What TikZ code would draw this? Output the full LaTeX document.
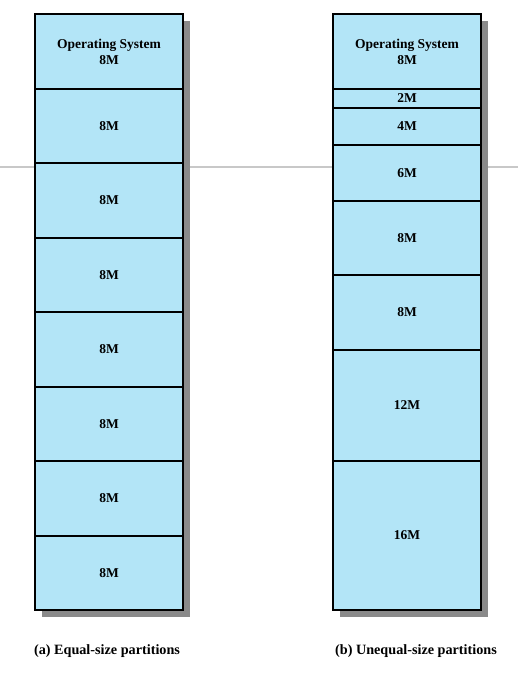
\documentclass[tikz,border=0pt]{standalone}
\usepackage{fontspec}
\setmainfont{Liberation Serif}
\begin{document}
\begin{tikzpicture}[x=1pt,y=-1pt,
  part/.style={draw=black, line width=2pt, fill=partblue, inner sep=0pt, outer sep=0pt,
    minimum width=148pt, font=\bfseries\fontsize{13.5}{16}\selectfont, align=center},
  caption/.style={font=\bfseries\fontsize{14.2}{16}\selectfont, inner sep=0pt}]
\definecolor{partblue}{HTML}{B3E5F7}
\definecolor{shadowgray}{HTML}{8A8A8A}
\definecolor{rulegray}{HTML}{C8C8C8}
\useasboundingbox (0,0) rectangle (518,673);
% horizontal rule
\coordinate (ruleL) at (0,167);
\coordinate (ruleR) at (518,167);
\draw[rulegray, line width=1.5pt] (ruleL) -- (ruleR);
% shadows
\fill[shadowgray] (42,21) rectangle (190,617);
\fill[shadowgray] (340,21) rectangle (488,617);
% left column: equal partitions
\node[part, minimum height=75pt] (a0) at (109,51.5) {Operating System\\8M};
\node[part, minimum height=74pt] (a1) at (109,126) {8M};
\node[part, minimum height=75pt] (a2) at (109,200.5) {8M};
\node[part, minimum height=74pt] (a3) at (109,275) {8M};
\node[part, minimum height=75pt] (a4) at (109,349.5) {8M};
\node[part, minimum height=74pt] (a5) at (109,424) {8M};
\node[part, minimum height=75pt] (a6) at (109,498.5) {8M};
\node[part, minimum height=74pt] (a7) at (109,573) {8M};
% right column: unequal partitions
\node[part, minimum height=75pt] (b0) at (407,51.5) {Operating System\\8M};
\node[part, minimum height=19pt] (b1) at (407,98.5) {2M};
\node[part, minimum height=37pt] (b2) at (407,126.5) {4M};
\node[part, minimum height=56pt] (b3) at (407,173) {6M};
\node[part, minimum height=74pt] (b4) at (407,238) {8M};
\node[part, minimum height=75pt] (b5) at (407,312.5) {8M};
\node[part, minimum height=111pt] (b6) at (407,405.5) {12M};
\node[part, minimum height=149pt] (b7) at (407,535.5) {16M};
% captions
\node[caption] (capA) at (107,651) {(a) Equal-size partitions};
\node[caption] (capB) at (416,651) {(b) Unequal-size partitions};
\end{tikzpicture}
\end{document}
